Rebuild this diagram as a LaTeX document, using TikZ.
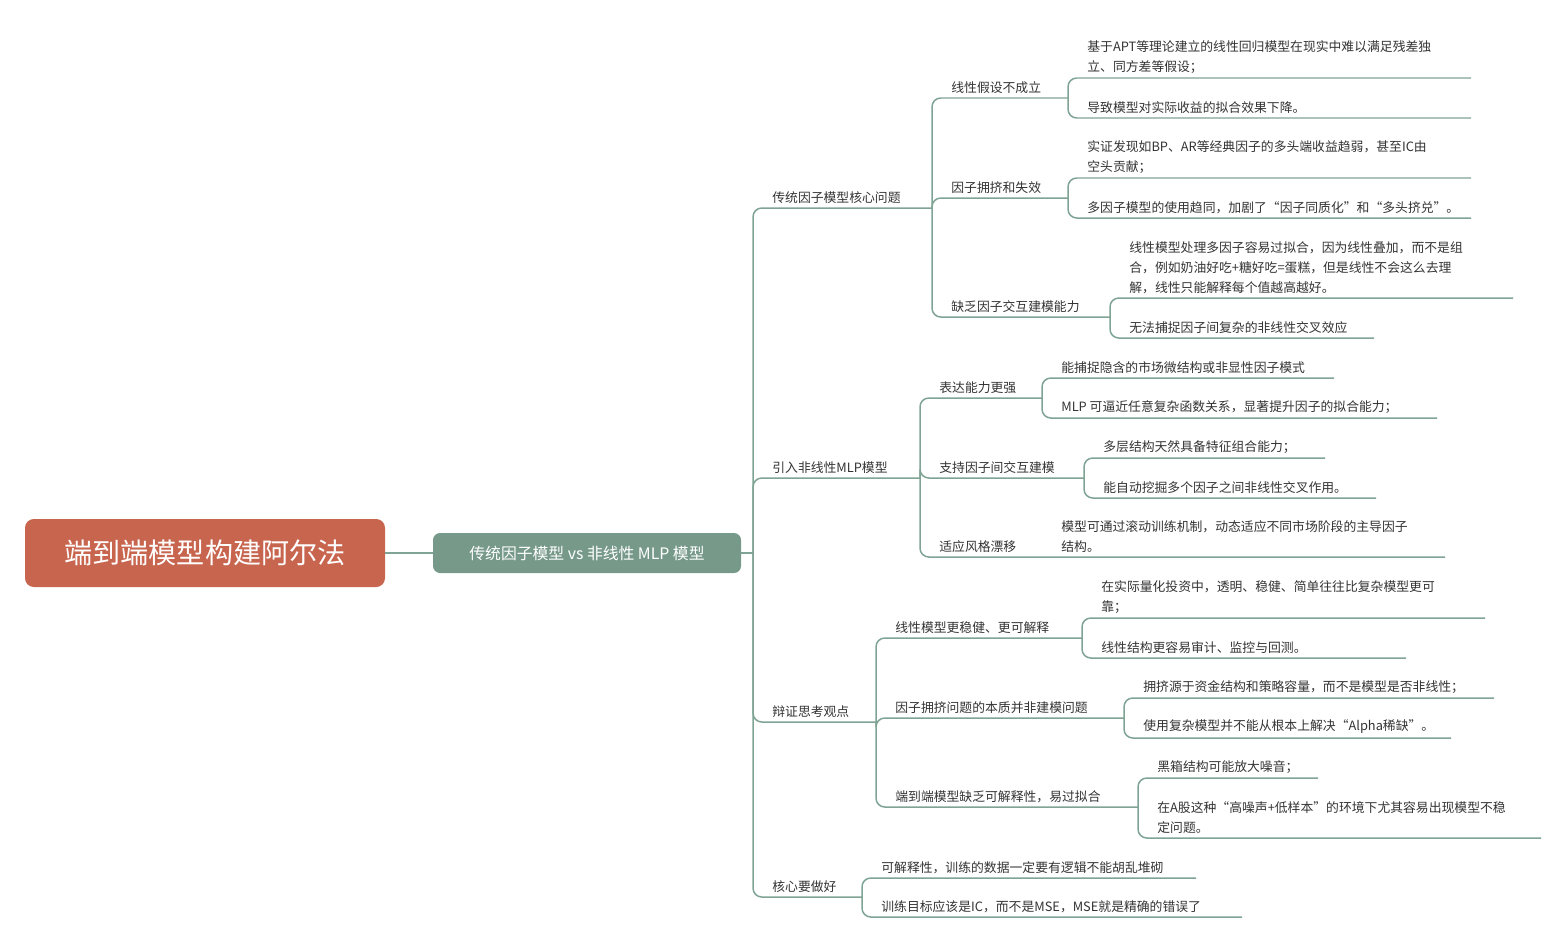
\documentclass[tikz,border=0pt]{standalone}
\usepackage{fontspec}
\setmainfont{Noto Sans CJK SC}
\begin{document}
\begin{tikzpicture}[x=0.02cm,y=-0.02cm,
  br/.style={draw=lc,line width=0.85pt,rounded corners=5pt},
  lbl/.style={inner sep=0pt,text=tc,font=\fontsize{7.3}{11.3}\selectfont,align=left}]
\definecolor{lc}{HTML}{7FA394}
\definecolor{tc}{HTML}{333333}
\definecolor{rootc}{HTML}{C8654F}
\definecolor{midc}{HTML}{76998A}
\useasboundingbox (0,0) rectangle (1567,943);
\newcommand\br[6]{\draw[br] (#2,#3) -- (#2,#4) -- (#5,#4);
  \node[lbl,anchor=south west] (#1) at (#2+19,#4-4) {#6};}
% root
\node[fill=rootc,rounded corners=5pt,minimum width=360*0.02cm,minimum height=68*0.02cm,text=white,font=\fontsize{16}{18}\selectfont] (root) at (205,553) {端到端模型构建阿尔法};
\node[fill=midc,rounded corners=4pt,minimum width=308*0.02cm,minimum height=40*0.02cm,text=white,font=\fontsize{9}{11}\selectfont] (mid) at (587,553) {传统因子模型 vs 非线性 MLP 模型};
\draw[br] (root.east) -- (mid.west);
\draw[br] (mid.east) -- (753,553);
% level 1
\br{a}{753}{553}{208}{932}{传统因子模型核心问题}
\br{b}{753}{553}{478}{920}{引入非线性MLP模型}
\br{c}{753}{553}{722}{876}{辩证思考观点}
\br{d}{753}{553}{897}{862}{核心要做好}
% under a
\br{a1}{932}{208}{98}{1068}{线性假设不成立}
\br{a2}{932}{208}{198}{1068}{因子拥挤和失效}
\br{a3}{932}{208}{317}{1110}{缺乏因子交互建模能力}
\br{a11}{1068}{98}{78}{1471}{基于APT等理论建立的线性回归模型在现实中难以满足残差独\\立、同方差等假设；}
\br{a12}{1068}{98}{118}{1471}{导致模型对实际收益的拟合效果下降。}
\br{a21}{1068}{198}{178}{1471}{实证发现如BP、AR等经典因子的多头端收益趋弱，甚至IC由\\空头贡献；}
\br{a22}{1068}{198}{218}{1471}{多因子模型的使用趋同，加剧了“因子同质化”和“多头挤兑”。}
\br{a31}{1110}{317}{298}{1513}{线性模型处理多因子容易过拟合，因为线性叠加，而不是组\\合，例如奶油好吃+糖好吃=蛋糕，但是线性不会这么去理\\解，线性只能解释每个值越高越好。}
\br{a32}{1110}{317}{338}{1374}{无法捕捉因子间复杂的非线性交叉效应}
% under b
\br{b1}{920}{478}{398}{1042}{表达能力更强}
\br{b2}{920}{478}{478}{1084}{支持因子间交互建模}
\br{b3}{920}{478}{557}{1445}{适应风格漂移}
\br{b11}{1042}{398}{378}{1334}{能捕捉隐含的市场微结构或非显性因子模式}
\br{b12}{1042}{398}{418}{1437}{MLP 可逼近任意复杂函数关系，显著提升因子的拟合能力；}
\br{b21}{1084}{478}{458}{1325}{多层结构天然具备特征组合能力；}
\br{b22}{1084}{478}{498}{1376}{能自动挖掘多个因子之间非线性交叉作用。}
\node[lbl,anchor=south west] (b31) at (1061,553) {模型可通过滚动训练机制，动态适应不同市场阶段的主导因子\\结构。};
% under c
\br{c1}{876}{722}{638}{1082}{线性模型更稳健、更可解释}
\br{c2}{876}{722}{718}{1124}{因子拥挤问题的本质并非建模问题}
\br{c3}{876}{722}{807}{1138}{端到端模型缺乏可解释性，易过拟合}
\br{c11}{1082}{638}{618}{1485}{在实际量化投资中，透明、稳健、简单往往比复杂模型更可\\靠；}
\br{c12}{1082}{638}{658}{1406}{线性结构更容易审计、监控与回测。}
\br{c21}{1124}{718}{698}{1494}{拥挤源于资金结构和策略容量，而不是模型是否非线性；}
\br{c22}{1124}{718}{738}{1451}{使用复杂模型并不能从根本上解决“Alpha稀缺”。}
\br{c31}{1138}{807}{778}{1318}{黑箱结构可能放大噪音；}
\br{c32}{1138}{807}{838}{1541}{在A股这种“高噪声+低样本”的环境下尤其容易出现模型不稳\\定问题。}
% under d
\br{d1}{862}{897}{878}{1196}{可解释性，训练的数据一定要有逻辑不能胡乱堆砌}
\br{d2}{862}{897}{917}{1242}{训练目标应该是IC，而不是MSE，MSE就是精确的错误了}
\end{tikzpicture}
\end{document}
